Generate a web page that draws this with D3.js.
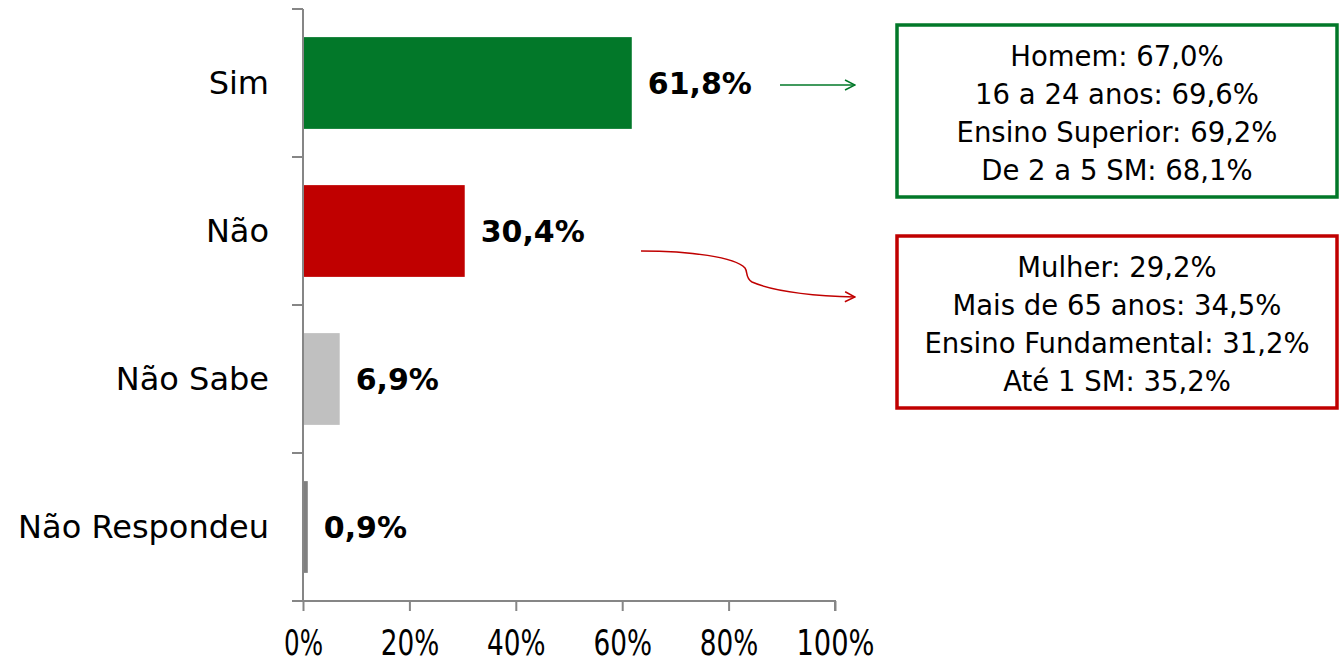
<!DOCTYPE html>
<html><head><meta charset="utf-8">
<script src="https://cdn.jsdelivr.net/npm/d3@7/dist/d3.min.js"></script>
<style>body{margin:0;background:#fff}svg{display:block}</style>
</head><body>
<script>
const categories = ["Sim", "Não", "Não Sabe", "Não Respondeu"];
const values = [61.8, 30.4, 6.9, 0.9];
const valueLabels = ["61,8%", "30,4%", "6,9%", "0,9%"];
const barColors = ["#027829", "#c00000", "#c0c0c0", "#808080"];
const xTicks = [0, 20, 40, 60, 80, 100];
const greenBoxLines = ["Homem: 67,0%", "16 a 24 anos: 69,6%", "Ensino Superior: 69,2%", "De 2 a 5 SM: 68,1%"];
const redBoxLines = ["Mulher: 29,2%", "Mais de 65 anos: 34,5%", "Ensino Fundamental: 31,2%", "Até 1 SM: 35,2%"];

const W = 1341, H = 665;
const svg = d3.select("body").append("svg").attr("width", W).attr("height", H);
const axisColor = "#868686";
const x = d3.scaleLinear().domain([0, 100]).range([303, 835]);
const y = d3.scaleBand().domain(categories).range([9, 601]).paddingInner(0.38).paddingOuter(0.19);

// bars
svg.selectAll("rect.bar").data(categories).enter().append("rect")
  .attr("x", x(0)).attr("y", d => y(d))
  .attr("width", (d, i) => x(values[i]) - x(0))
  .attr("height", y.bandwidth())
  .attr("fill", (d, i) => barColors[i]);

// y axis
const yAxis = svg.append("g");
yAxis.append("line").attr("x1", x(0)).attr("x2", x(0)).attr("y1", 9).attr("y2", 601)
  .attr("stroke", axisColor).attr("stroke-width", 2);
for (let i = 0; i <= categories.length; i++) {
  const yy = 9 + i * (592 / categories.length);
  yAxis.append("line").attr("x1", x(0) - 11).attr("x2", x(0)).attr("y1", yy).attr("y2", yy)
    .attr("stroke", axisColor).attr("stroke-width", 2);
}
svg.selectAll("text.cat").data(categories).enter().append("text")
  .attr("x", 269).attr("y", d => y(d) + y.bandwidth() / 2)
  .attr("text-anchor", "end").attr("dominant-baseline", "central")
  .attr("font-family", "DejaVu Sans, sans-serif").attr("font-size", 32)
  .attr("fill", "#000").text(d => d);

// value labels
svg.selectAll("text.val").data(categories).enter().append("text")
  .attr("x", (d, i) => x(values[i]) + 16).attr("y", d => y(d) + y.bandwidth() / 2)
  .attr("dominant-baseline", "central")
  .attr("font-family", "DejaVu Sans, sans-serif").attr("font-weight", "bold").attr("font-size", 30)
  .attr("fill", "#000").text((d, i) => valueLabels[i]);

// x axis
const xAxisG = svg.append("g").attr("transform", "translate(0,601)")
  .call(d3.axisBottom(x).tickValues(xTicks).tickSize(10).tickFormat(d => d + "%"));
xAxisG.select(".domain").attr("stroke", axisColor).attr("stroke-width", 2)
  .attr("d", `M${x(0) - 11},0H${x(100)}V10`);
xAxisG.selectAll(".tick line").attr("stroke", axisColor).attr("stroke-width", 2);
xAxisG.selectAll(".tick text").attr("font-family", "DejaVu Sans Condensed, DejaVu Sans, sans-serif")
  .attr("font-size", 35).attr("fill", "#000").attr("y", 29).attr("dy", "0.71em")
  .attr("textLength", d => (d + "%").length * 19.5).attr("lengthAdjust", "spacingAndGlyphs");

// boxes
function box(lines, color, top) {
  const bx = 897, bw = 440, bh = 172;
  svg.append("rect").attr("x", bx).attr("y", top).attr("width", bw).attr("height", bh)
    .attr("fill", "#fff").attr("stroke", color).attr("stroke-width", 3.5);
  svg.append("g").selectAll("text").data(lines).enter().append("text")
    .attr("x", bx + bw / 2).attr("y", (d, i) => top + 31 + i * 38)
    .attr("text-anchor", "middle").attr("dominant-baseline", "central")
    .attr("font-family", "DejaVu Sans, sans-serif").attr("font-size", 27.5)
    .attr("fill", "#000").text(d => d);
}
box(greenBoxLines, "#027829", 25);
box(redBoxLines, "#c00000", 236);

// arrows
const defs = svg.append("defs");
function marker(id, color) {
  defs.append("marker").attr("id", id).attr("viewBox", "0 0 12 12").attr("refX", 11).attr("refY", 6)
    .attr("markerWidth", 12).attr("markerHeight", 12).attr("markerUnits", "userSpaceOnUse").attr("orient", "auto")
    .append("path").attr("d", "M1,1L11,6L1,11").attr("fill", "none").attr("stroke", color).attr("stroke-width", 1.5);
}
marker("mg", "#027829");
marker("mr", "#c00000");
svg.append("path").attr("d", "M780,85H855").attr("stroke", "#027829").attr("stroke-width", 1.5)
  .attr("fill", "none").attr("marker-end", "url(#mg)");
svg.append("path").attr("d", "M641,251C690,251 735,257 745,268C748,272 745,278 752,282C775,292 820,296 855,297")
  .attr("stroke", "#c00000").attr("stroke-width", 1.5).attr("fill", "none").attr("marker-end", "url(#mr)");
</script>
</body></html>
